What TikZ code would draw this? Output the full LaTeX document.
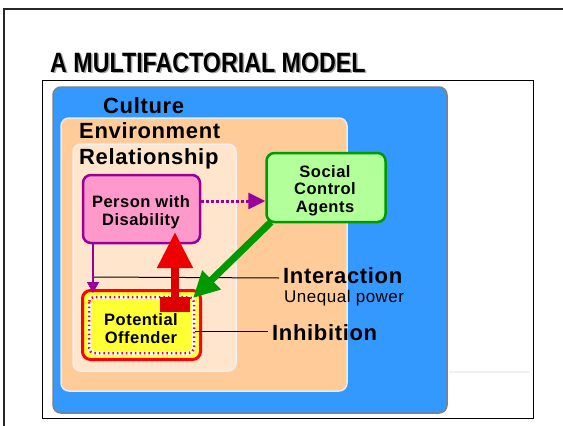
\documentclass[tikz,border=0pt]{standalone}
\usepackage{fontspec}
\setmainfont{Liberation Sans}
\usetikzlibrary{arrows.meta,calc}
\definecolor{cblue}{HTML}{3399FF}
\definecolor{cenv}{HTML}{FFCC99}
\definecolor{crel}{HTML}{FFE5CC}
\definecolor{cpink}{HTML}{FF99CC}
\definecolor{cpurple}{HTML}{990099}
\definecolor{csocial}{HTML}{B3FF99}
\definecolor{cgreen}{HTML}{009900}
\definecolor{cyel}{HTML}{FFFF33}
\definecolor{cred}{HTML}{FF0000}
\definecolor{cdarkred}{HTML}{DD0000}
\definecolor{carrowred}{HTML}{EE0000}
\tikzset{
  box/.style={rectangle, rounded corners=8pt, line width=2.5pt, inner sep=0pt},
  boxtext/.style={font=\fontsize{16.5}{17.5}\selectfont\bfseries\addfontfeature{LetterSpace=3}, align=center, inner sep=0pt},
  lblbig/.style={font=\fontsize{22}{24}\selectfont\bfseries\addfontfeature{LetterSpace=3}, inner sep=0pt, anchor=base west},
  lblsmall/.style={font=\fontsize{17}{19}\selectfont\addfontfeature{LetterSpace=3}, inner sep=0pt, anchor=base west},
  ttl/.style={font=\fontsize{28}{30}\selectfont\bfseries, inner sep=0pt, anchor=base west},
}
\begin{document}
\begin{tikzpicture}[x=1pt,y=-1pt]
\useasboundingbox (0,0) rectangle (563,426);
% outer frame
\draw[line width=2.5pt, black!85] (4,440) -- (4,9) -- (575,9);
% title with shadow
\node[ttl, text=black!35] (titleshadow) at (51.5,73.5) {\scalebox{0.83}[1]{A MULTIFACTORIAL MODEL}};
\node[ttl] (title) at (50,72) {\scalebox{0.83}[1]{A MULTIFACTORIAL MODEL}};
% inner frame
\draw[line width=1.5pt] (42.5,80.5) rectangle (533.5,418.5);
% nested layers
\draw[fill=cblue, draw=black!50, line width=1.5pt, rounded corners=8pt] (53,87) rectangle (447,413);
\draw[fill=cenv, draw=black!8, line width=1.5pt, rounded corners=8pt] (61,118) rectangle (347,391);
\draw[fill=crel, draw=black!6, line width=1.5pt, rounded corners=8pt] (73,144) rectangle (236,371);
\draw[black!6, line width=2pt] (449,372) -- (530,372);
% layer labels
\node[lblbig] (culture) at (103,113) {Culture};
\node[lblbig] (environment) at (79,138) {Environment};
\node[lblbig] (relationship) at (79,164) {Relationship};
% boxes
\node[box, fill=cpink, draw=cpurple, minimum width=117pt, minimum height=68pt] (person) at (141.5,209) {};
\node[boxtext] (persontxt) at (141,212.4) {Person with\\Disability};
\node[box, fill=csocial, draw=cgreen, minimum width=119pt, minimum height=69pt] (social) at (326,187.5) {};
\node[boxtext] (socialtxt) at (325,190.3) {Social\\Control\\Agents};
\node[box, fill=cyel, draw=cred, line width=3pt, minimum width=118pt, minimum height=69pt] (offender) at (141.5,325) {};
\draw[white, line width=4pt, rounded corners=5pt] (89,297) rectangle (194,353);
\draw[cred, line width=2.5pt, dash pattern=on 1.5pt off 3pt, rounded corners=5pt] (89,297) rectangle (194,353);
\node[boxtext] (offendertxt) at (141,328.5) {Potential\\Offender};
% labels on right
\node[lblbig] (interlbl) at (283,283) {Interaction};
\node[lblsmall] (unequal) at (284,302) {Unequal power};
\node[lblbig] (inhiblbl) at (272,340) {Inhibition};
% pointer lines
\coordinate (intA) at (93,277);
\coordinate (intB) at (279,278);
\draw[line width=1pt] (intA) -- (intB);
\coordinate (inhA) at (195,331);
\coordinate (inhB) at (268,331);
\draw[line width=1pt] (inhA) -- (inhB);
% purple arrows
\coordinate (pv1) at (93,243);
\coordinate (pv2) at (93,293);
\draw[cpurple, line width=1.5pt, -{Triangle[width=12pt,length=11pt]}] (pv1) -- (pv2);
\draw[cpurple, line width=3pt, dash pattern=on 3pt off 2pt, -{Triangle[width=16pt,length=17pt]}] ([yshift=8pt]person.east) -- ([yshift=-13.5pt]social.west);
% red interaction arrow
\node[fill=cdarkred, inner sep=0pt, minimum width=30pt, minimum height=15pt] (redsq) at (175,304.5) {};
\coordinate (redtip) at (175,232);
\draw[cdarkred, line width=8pt, -{Triangle[width=34pt,length=36pt,color=carrowred]}] (redsq.north) -- (redtip);
% green arrow
\coordinate (gstart) at (271,222);
\coordinate (gtip) at (193,298);
\draw[cgreen, line width=7pt, -{Triangle[width=25pt,length=26pt]}] (gstart) -- (gtip);
\end{tikzpicture}
\end{document}
